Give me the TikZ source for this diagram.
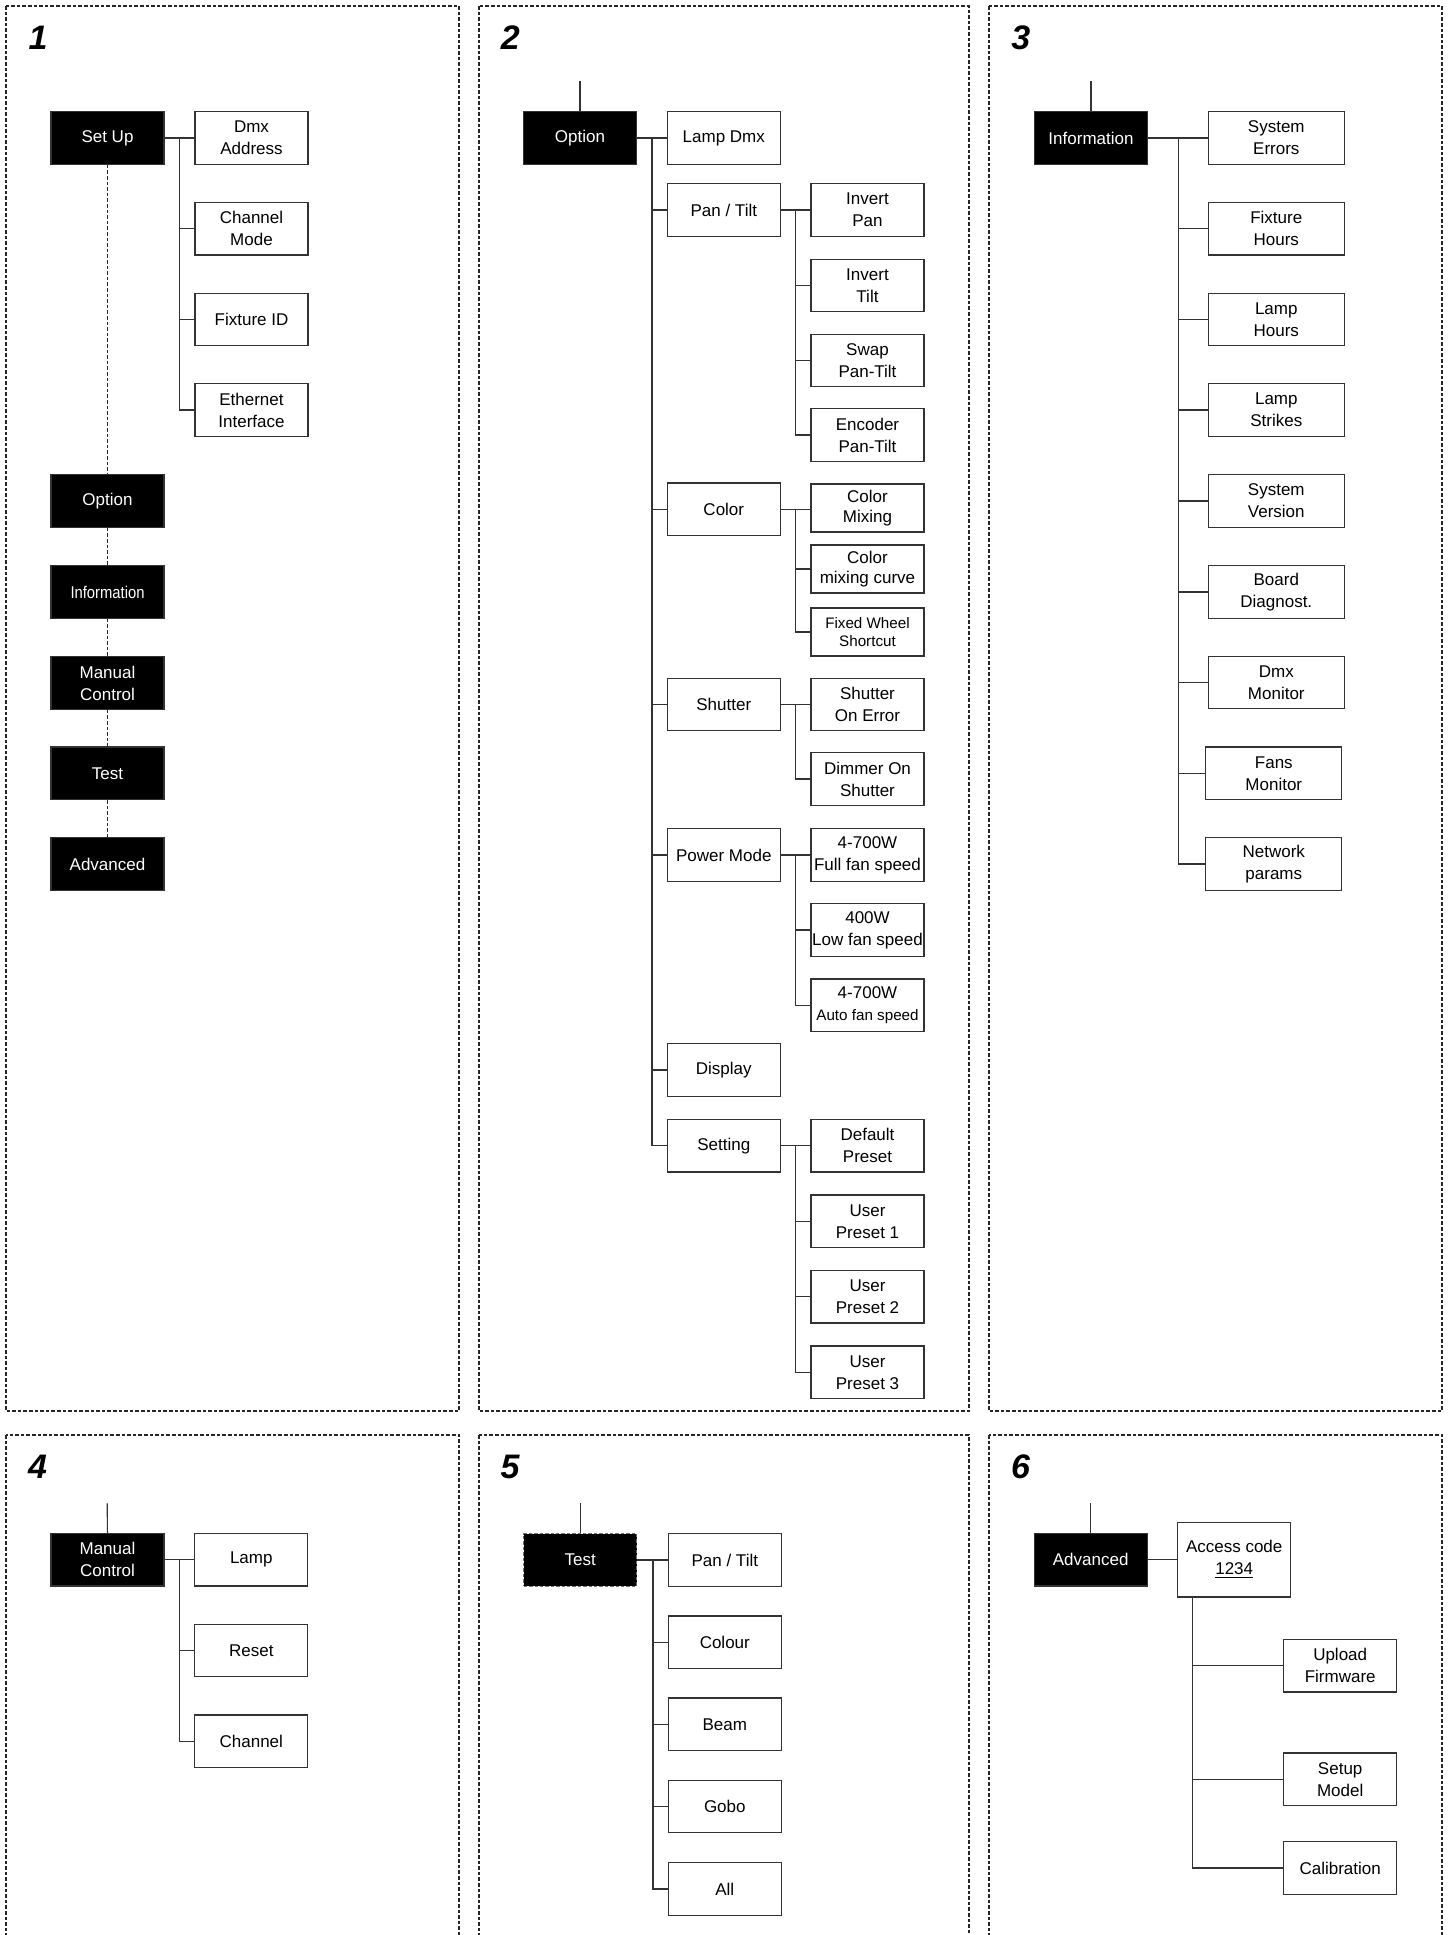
\documentclass[tikz,border=0pt]{standalone}
\usepackage{fontspec}
\setmainfont{Liberation Sans}
\usepackage{graphicx}

\begin{document}
\begin{tikzpicture}[x=0.5pt, y=-0.5pt,
        panel/.style={draw=black!85, line width=0.6pt, dash pattern=on 1.8pt off 1pt},
        num/.style={font=\fontsize{17}{17}\selectfont\bfseries\itshape, inner sep=0pt},
        item/.style={draw=black!80, line width=0.6pt, fill=white, minimum width=56.5pt, minimum height=26.25pt, inner sep=0pt, align=center, font=\fontsize{8.5}{11}\selectfont},
        menu/.style={item, fill=black, text=white},
        wider/.style={minimum width=68pt},
        short/.style={minimum height=24pt, font=\fontsize{8.5}{10}\selectfont},
        link/.style={draw=black!80, line width=0.6pt},
        dashlink/.style={link, draw=black!85, dash pattern=on 1.8pt off 1pt}]
        	\useasboundingbox (0,0) rectangle (1453,1935);
        	\clip (0,0) rectangle (1453,1935);

        	% the six panels
        	\draw[panel] (6,6) rectangle (459,1411);
        	\draw[panel] (479,6) rectangle (969,1411);
        	\draw[panel] (989,6) rectangle (1442,1411);
        	\draw[panel] (6,1435) rectangle (459,1960);
        	\draw[panel] (479,1435) rectangle (969,1960);
        	\draw[panel] (989,1435) rectangle (1442,1960);

        	% panel 1
        	\node [num] (n1) at (38,37.5) {1};
        	\node [menu] (setup) at (107.5,138) {Set Up};
        	\node [item] (dmxaddr) at (251.5,138) {Dmx\\Address};
        	\node [item] (chmode) at (251.5,228.8) {Channel\\Mode};
        	\node [item] (fixid) at (251.5,319.5) {Fixture ID};
        	\node [item] (ether) at (251.5,410) {Ethernet\\Interface};
        	\node [menu] (option) at (107.5,501) {Option};
        	\node [menu] (info) at (107.5,592) {\scalebox{0.87}[1]{Information}};
        	\node [menu] (manual) at (107.5,683) {Manual\\Control};
        	\node [menu] (test) at (107.5,773.3) {Test};
        	\node [menu] (advanced) at (107.5,864) {Advanced};
        	\coordinate (t1) at (179.3,138);
        	\draw [link] (setup) -- (dmxaddr);
        	\draw [link] (t1) |- (ether.west);
        	\foreach \c in {chmode,fixid} \draw [link] (t1 |- \c.west) -- (\c.west);
        	\foreach \a/\b in {setup/option,option/info,info/manual,manual/test,test/advanced}
        		\draw [dashlink] (\a) -- (\b);

        	% panel 2
        	\node [num] (n2) at (510.3,37.5) {2};
        	\coordinate (s2) at (580,81.4);
        	\node [menu] (option2) at (580,138) {Option};
        	\node [item] (lampdmx) at (723.8,138) {Lamp Dmx};
        	\node [item] (pantilt) at (723.8,210) {Pan / Tilt};
        	\node [item] (color) at (723.8,509.3) {Color};
        	\node [item] (shutter) at (723.8,704.5) {Shutter};
        	\node [item] (power) at (723.8,855) {Power Mode};
        	\node [item] (display) at (723.8,1070) {Display};
        	\node [item] (setting) at (723.8,1145.7) {Setting};
        	\node [item] (invpan) at (867.5,210) {Invert\\Pan};
        	\node [item] (invtilt) at (867.5,285.4) {Invert\\Tilt};
        	\node [item] (swap) at (867.5,360.4) {Swap\\Pan-Tilt};
        	\node [item] (encoder) at (867.5,435) {Encoder\\Pan-Tilt};
        	\node [item, short] (colmix) at (867.5,508) {Color\\Mixing};
        	\node [item, short] (colcurve) at (867.5,569) {Color\\mixing curve};
        	\node [item, short, font=\fontsize{7.6}{9.2}\selectfont] (fixwheel) at (867.5,632) {Fixed Wheel\\Shortcut};
        	\node [item] (shuterr) at (867.5,704.5) {Shutter\\On Error};
        	\node [item] (dimmer) at (867.5,779) {Dimmer On\\Shutter};
        	\node [item] (fullfan) at (867.5,855) {4-700W\\Full fan speed};
        	\node [item] (lowfan) at (867.5,930) {400W\\Low fan speed};
        	\node [item] (autofan) at (867.5,1005.3) {4-700W\\{\fontsize{7.6}{11}\selectfont Auto fan speed}};
        	\node [item] (defpre) at (867.5,1145.7) {Default\\Preset};
        	\node [item] (user1) at (867.5,1221.3) {User\\Preset 1};
        	\node [item] (user2) at (867.5,1296.7) {User\\Preset 2};
        	\node [item] (user3) at (867.5,1372.3) {User\\Preset 3};
        	\draw [link] (s2) -- (option2);
        	\coordinate (t2) at (652,138);
        	\draw [link] (option2) -- (lampdmx);
        	\draw [link] (t2) |- (setting.west);
        	\foreach \c in {pantilt,color,shutter,power,display} \draw [link] (t2 |- \c.west) -- (\c.west);
        	\coordinate (t2a) at (795.5,210);
        	\draw [link] (pantilt) -- (invpan);
        	\draw [link] (t2a) |- (encoder.west);
        	\foreach \c in {invtilt,swap} \draw [link] (t2a |- \c.west) -- (\c.west);
        	\coordinate (t2b) at (795.5,509.3);
        	\draw [link] (color.east) -- (t2b -| colmix.west);
        	\draw [link] (t2b) |- (fixwheel.west);
        	\draw [link] (t2b |- colcurve.west) -- (colcurve.west);
        	\coordinate (t2c) at (795.5,704.5);
        	\draw [link] (shutter) -- (shuterr);
        	\draw [link] (t2c) |- (dimmer.west);
        	\coordinate (t2d) at (795.5,855);
        	\draw [link] (power) -- (fullfan);
        	\draw [link] (t2d) |- (autofan.west);
        	\draw [link] (t2d |- lowfan.west) -- (lowfan.west);
        	\coordinate (t2e) at (795.5,1145.7);
        	\draw [link] (setting) -- (defpre);
        	\draw [link] (t2e) |- (user3.west);
        	\foreach \c in {user1,user2} \draw [link] (t2e |- \c.west) -- (\c.west);

        	% panel 3
        	\node [num] (n3) at (1020.8,37.5) {3};
        	\coordinate (s3) at (1091,81.4);
        	\node [menu] (info3) at (1091,138) {Information};
        	\node [item, wider] (syserr) at (1276.3,138) {System\\Errors};
        	\node [item, wider] (fixhrs) at (1276.3,228.8) {Fixture\\Hours};
        	\node [item, wider] (lamphrs) at (1276.3,319.5) {Lamp\\Hours};
        	\node [item, wider] (lampstr) at (1276.3,410) {Lamp\\Strikes};
        	\node [item, wider] (sysver) at (1276.3,501) {System\\Version};
        	\node [item, wider] (board) at (1276.3,592) {Board\\Diagnost.};
        	\node [item, wider] (dmxmon) at (1276.3,682.5) {Dmx\\Monitor};
        	\node [item, wider] (fans) at (1273.8,773.3) {Fans\\Monitor};
        	\node [item, wider] (network) at (1273.8,864) {Network\\params};
        	\draw [link] (s3) -- (info3);
        	\coordinate (t3) at (1178.3,138);
        	\draw [link] (info3) -- (syserr);
        	\draw [link] (t3) |- (network.west);
        	\foreach \c in {fixhrs,lamphrs,lampstr,sysver,board,dmxmon,fans} \draw [link] (t3 |- \c.west) -- (\c.west);

        	% panel 4
        	\node [num] (n4) at (37.5,1466.7) {4};
        	\coordinate (s4) at (107.3,1503.3);
        	\node [menu] (manual4) at (107.5,1559.7) {Manual\\Control};
        	\node [item] (lamp) at (251.3,1559.7) {Lamp};
        	\node [item] (reset) at (251.3,1650.5) {Reset};
        	\node [item] (channel) at (251.3,1741.2) {Channel};
        	\draw [link] (s4) -- (manual4);
        	\coordinate (t4) at (179.3,1559.7);
        	\draw [link] (manual4) -- (lamp);
        	\draw [link] (t4) |- (channel.west);
        	\draw [link] (t4 |- reset.west) -- (reset.west);

        	% panel 5
        	\node [num] (n5) at (510,1466.7) {5};
        	\coordinate (s5) at (580.3,1503.3);
        	\node [menu, draw=black!55, dash pattern=on 1.7pt off 1pt] (test5) at (580.3,1560) {Test};
        	\node [item] (tpantilt) at (724.8,1560) {Pan / Tilt};
        	\node [item] (colour) at (724.8,1642.2) {Colour};
        	\node [item] (beam) at (724.8,1724.3) {Beam};
        	\node [item] (gobo) at (724.8,1806.5) {Gobo};
        	\node [item] (all) at (724.8,1889) {All};
        	\draw [link] (s5) -- (test5);
        	\coordinate (t5) at (653,1560);
        	\draw [link] (test5) -- (tpantilt);
        	\draw [link] (t5) |- (all.west);
        	\foreach \c in {colour,beam,gobo} \draw [link] (t5 |- \c.west) -- (\c.west);

        	% panel 6
        	\node [num] (n6) at (1020.5,1466.7) {6};
        	\coordinate (s6) at (1090.7,1503.3);
        	\node [menu] (adv6) at (1090.7,1559.7) {Advanced};
        	\node [item, minimum height=37.35pt] (access) at (1234.2,1559.7) {Access code\\\underline{1234}};
        	\node [item] (upload) at (1340.2,1665.7) {Upload\\Firmware};
        	\node [item] (setupmodel) at (1340.2,1779.2) {Setup\\Model};
        	\node [item] (calib) at (1340.2,1868) {Calibration};
        	\draw [link] (s6) -- (adv6);
        	\draw [link] (adv6) -- (access);
        	\coordinate (t6) at (1192.7,1597.05);
        	\draw [link] (t6) |- (calib.west);
        	\foreach \c in {upload,setupmodel} \draw [link] (t6 |- \c.west) -- (\c.west);
        \end{tikzpicture}
\end{document}
